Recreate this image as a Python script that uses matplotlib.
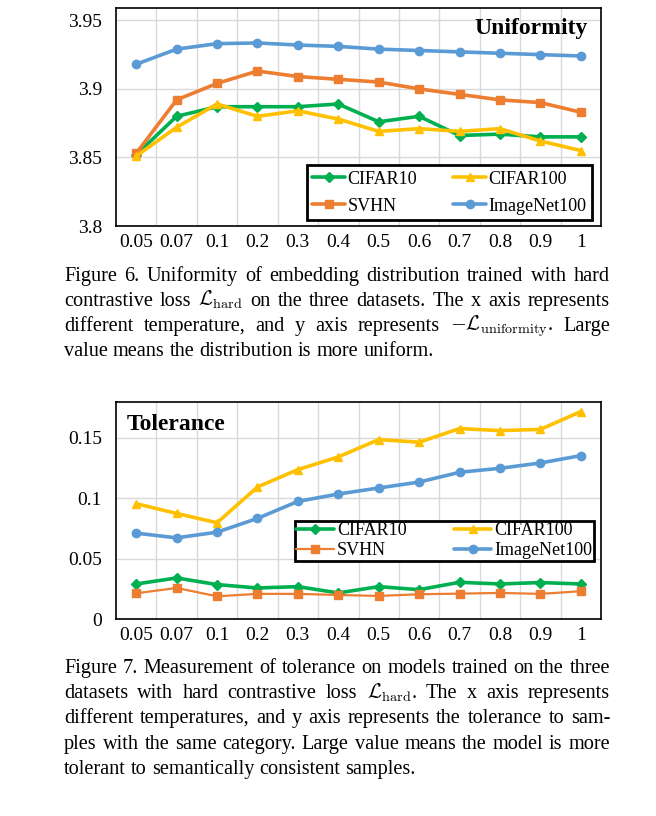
import matplotlib
matplotlib.use("Agg")
import matplotlib.pyplot as plt

plt.rcParams['font.family'] = ['Liberation Serif', 'DejaVu Serif']
plt.rcParams['mathtext.fontset'] = 'cm'

temps = ["0.05", "0.07", "0.1", "0.2", "0.3", "0.4", "0.5", "0.6", "0.7", "0.8", "0.9", "1"]

# Figure 6: uniformity
uni_cifar10 = [3.852, 3.880, 3.887, 3.887, 3.887, 3.889, 3.876, 3.880, 3.866, 3.867, 3.865, 3.865]
uni_cifar100 = [3.851, 3.872, 3.889, 3.880, 3.884, 3.878, 3.869, 3.871, 3.869, 3.871, 3.862, 3.855]
uni_svhn = [3.853, 3.892, 3.904, 3.913, 3.909, 3.907, 3.905, 3.900, 3.896, 3.892, 3.890, 3.883]
uni_imagenet = [3.918, 3.929, 3.933, 3.9335, 3.932, 3.931, 3.929, 3.928, 3.927, 3.926, 3.925, 3.924]

# Figure 7: tolerance
tol_cifar10 = [0.029, 0.034, 0.0285, 0.0257, 0.0268, 0.0216, 0.0268, 0.0243, 0.0304, 0.029, 0.0302, 0.029]
tol_cifar100 = [0.0955, 0.0874, 0.0797, 0.1093, 0.1237, 0.1342, 0.1486, 0.1464, 0.1577, 0.156, 0.157, 0.1718]
tol_svhn = [0.0213, 0.0257, 0.0188, 0.0208, 0.0208, 0.0199, 0.0191, 0.0205, 0.021, 0.0216, 0.0208, 0.023]
tol_imagenet = [0.0711, 0.0672, 0.0719, 0.0833, 0.0974, 0.1035, 0.1085, 0.1134, 0.1215, 0.1248, 0.1292, 0.1353]

cap6 = [
    "Figure 6. Uniformity of embedding distribution trained with hard",
    r"contrastive loss $\mathcal{L}_{\mathrm{hard}}$ on the three datasets. The x axis represents",
    r"different temperature, and y axis represents $-\mathcal{L}_{\mathrm{uniformity}}$. Large",
    "value means the distribution is more uniform.",
]
cap7 = [
    "Figure 7. Measurement of tolerance on models trained on the three",
    r"datasets with hard contrastive loss $\mathcal{L}_{\mathrm{hard}}$.  The x axis represents",
    "different temperatures, and y axis represents the tolerance to sam-",
    "ples with the same category. Large value means the model is more",
    "tolerant to semantically consistent samples.",
]

GREEN = "#00B050"
GOLD = "#FFC000"
ORANGE = "#ED7D31"
BLUE = "#5B9BD5"

W, H = 656, 816
fig = plt.figure(figsize=(W / 100, H / 100), dpi=100)


def px_axes(left, top, right, bottom):
    return fig.add_axes([left / W, 1 - bottom / H, (right - left) / W, (bottom - top) / H])


def style_axes(ax, yticks, ylim, ylabels):
    x = range(len(temps))
    ax.set_xlim(-0.5, len(temps) - 0.5)
    ax.set_ylim(*ylim)
    ax.set_xticks(list(x))
    ax.set_xticklabels(temps, fontsize=14)
    ax.set_yticks(yticks)
    ax.set_yticklabels(ylabels, fontsize=14)
    ax.set_xticks([i + 0.5 for i in range(len(temps) - 1)], minor=True)
    ax.tick_params(which='both', length=0)
    ax.tick_params(axis='x', pad=6)
    ax.tick_params(axis='y', pad=10)
    ax.grid(True, which='minor', axis='x', color='#d9d9d9', lw=1)
    ax.grid(True, which='major', axis='y', color='#d9d9d9', lw=1)
    ax.set_axisbelow(True)
    for s in ax.spines.values():
        s.set_color('black')
        s.set_linewidth(1.2)


def series(ax, data, color, marker, label, lw=2.6, ms=6):
    ax.plot(range(len(temps)), data, color=color, marker=marker, lw=lw, ms=ms,
            label=label, solid_capstyle='round', zorder=3)


def legend(ax, right, bottom, axh, labelspacing, borderpad, colspace=2.0, hlen=1.8):
    leg = ax.legend(ncol=2, loc='lower right',
                    bbox_to_anchor=((right - 116) / 485, bottom / axh),
                    fontsize=13, frameon=True, fancybox=False, borderpad=borderpad,
                    handlelength=hlen, handletextpad=0.15, columnspacing=colspace,
                    labelspacing=labelspacing, borderaxespad=0)
    leg.get_frame().set_edgecolor('black')
    leg.get_frame().set_linewidth(2)
    leg.get_frame().set_alpha(1)
    return leg


# top chart
ax1 = px_axes(116, 8, 601, 226)
style_axes(ax1, [3.8, 3.85, 3.9, 3.95], (3.8, 3.959), ["3.8", "3.85", "3.9", "3.95"])
series(ax1, uni_cifar10, GREEN, 'D', "CIFAR10", ms=5)
series(ax1, uni_svhn, ORANGE, 's', "SVHN", ms=6)
series(ax1, uni_cifar100, GOLD, '^', "CIFAR100", ms=6)
series(ax1, uni_imagenet, BLUE, 'o', "ImageNet100", ms=6)
ax1.text((588 - 116) / 485, 0.955, "Uniformity", transform=ax1.transAxes, ha='right', va='top',
         fontsize=17, fontweight='bold')
legend(ax1, 592, 226 - 220, 218, 0.55, 0.3)

# bottom chart
ax2 = px_axes(116, 402, 601, 619)
style_axes(ax2, [0, 0.05, 0.1, 0.15], (0, 0.1797), ["0", "0.05", "0.1", "0.15"])
series(ax2, tol_cifar10, GREEN, 'D', "CIFAR10", ms=5)
series(ax2, tol_svhn, ORANGE, 's', "SVHN", lw=1.6, ms=6)
series(ax2, tol_cifar100, GOLD, '^', "CIFAR100", ms=6)
series(ax2, tol_imagenet, BLUE, 'o', "ImageNet100", ms=6)
ax2.text((127 - 116) / 485, 0.945, "Tolerance", transform=ax2.transAxes, ha='left', va='top',
         fontsize=17, fontweight='bold')
legend(ax2, 594, 619 - 561, 217, 0.15, 0.1, colspace=2.6, hlen=2.1)


def justified(lines, x0, x1, base_y, dy, size=14.6):
    renderer = fig.canvas.get_renderer()
    for i, line in enumerate(lines):
        words = line.split()
        y = 1 - (base_y + i * dy) / H
        texts = [fig.text(0, y, w, fontsize=size, va='baseline', ha='left') for w in words]
        widths = [t.get_window_extent(renderer).width for t in texts]
        if i == len(lines) - 1:
            gap = size * 0.25 * 100 / 72
        else:
            gap = (x1 - x0 - sum(widths)) / (len(words) - 1)
        x = x0
        for t, w in zip(texts, widths):
            t.set_x(x / W)
            x += w + gap


justified(cap6, 64, 610, 281, 25)
justified(cap7, 64, 610, 673, 25.2)

fig.savefig("out.png", dpi=100)
